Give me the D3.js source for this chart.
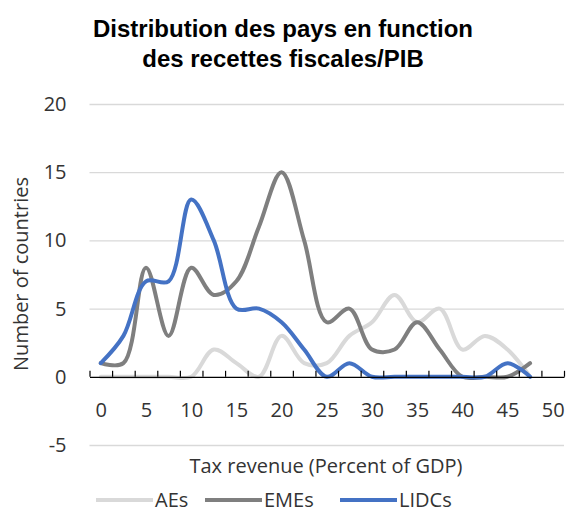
<!DOCTYPE html>
<html lang="fr">

<head>
    <meta charset="UTF-8" />
    <title>Distribution des pays</title>
    <style>
        body {
            margin: 0;
            background: #fff;
        }

        #container svg {
            display: block;
        }
    </style>
</head>

<body>
    <div id="container"></div>
</body>
<script src="https://cdnjs.cloudflare.com/ajax/libs/d3/7.8.5/d3.min.js"></script>
<script>
    // données
    const taxRevenue = [0, 2.5, 5, 7.5, 10, 12.5, 15, 17.5, 20, 22.5, 25, 27.5, 30, 32.5, 35, 37.5, 40, 42.5, 45, 47.5]
    const aes = [0, 0, 0, 0, 0, 2, 1, 0, 3, 1, 1, 3, 4, 6, 4, 5, 2, 3, 2, 0]
    const emes = [1, 1, 8, 3, 8, 6, 7, 11, 15, 10, 4, 5, 2, 2, 4, 2, 0, 0, 0, 1]
    const lidcs = [1, 3, 7, 7, 13, 10, 5, 5, 4, 2, 0, 1, 0, 0, 0, 0, 0, 0, 1, 0]
    const xTicks = [0, 5, 10, 15, 20, 25, 30, 35, 40, 45, 50]
    const yTicks = [-5, 0, 5, 10, 15, 20]
    const seriesNames = ['AEs', 'EMEs', 'LIDCs']
    const seriesColors = ['#d9d9d9', '#7f7f7f', '#4472c4']

    const width = 570, height = 512
    const plotL = 89.5, plotR = 564, plotT = 104, plotB = 445
    const font = "'Open Sans', sans-serif"

    const svg = d3.select('#container').append('svg').attr('width', width).attr('height', height)

    // titre
    const title = svg.append('text')
        .attr('text-anchor', 'middle')
        .style('font-family', "'Liberation Sans', Arial, sans-serif")
        .style('font-weight', 'bold')
        .style('font-size', '24px')
        .attr('fill', '#000')
    title.append('tspan').attr('x', 283).attr('y', 37).text('Distribution des pays en function')
    title.append('tspan').attr('x', 283).attr('y', 67).text('des recettes fiscales/PIB')

    // échelles : axe de catégories, une case de 2,5 par point
    const x = d3.scaleLinear().domain([-1.25, 51.25]).range([plotL, plotR])
    const y = d3.scaleLinear().domain([-5, 20]).range([plotB, plotT])

    // grille + étiquettes y (tiret simple pour -5)
    const yAxis = svg.append('g').attr('transform', `translate(${plotL},0)`)
        .call(d3.axisLeft(y).tickValues(yTicks).tickSize(-(plotR - plotL)).tickPadding(23).tickFormat(d => String(d)))
    yAxis.select('.domain').remove()
    yAxis.selectAll('line').attr('stroke', '#d9d9d9').attr('stroke-width', 1.3)
        .filter(d => d === 0).remove()
    yAxis.selectAll('text').style('font-family', font).style('font-size', '20px').attr('fill', '#333')

    // étiquettes x
    const xLabels = svg.append('g').attr('transform', `translate(0,${y(0)})`)
        .call(d3.axisBottom(x).tickValues(xTicks).tickSize(0).tickPadding(26))
    xLabels.select('.domain').remove()
    xLabels.selectAll('text').style('font-family', font).style('font-size', '20px').attr('fill', '#333')

    // séries
    const series = [aes, emes, lidcs]
    const line = d3.line()
        .x((d, i) => x(taxRevenue[i]))
        .y(d => y(d))
        .curve(d3.curveCatmullRom.alpha(0.5))

    series.forEach((s, k) => {
        svg.append('path')
            .datum(s)
            .attr('d', line)
            .attr('fill', 'none')
            .attr('stroke', seriesColors[k])
            .attr('stroke-width', 4)
            .attr('stroke-linejoin', 'round')
            .attr('stroke-linecap', 'round')
    })

    // axe horizontal à 0 avec graduations vers le haut
    const boundaries = d3.range(22).map(k => -1.25 + 2.5 * k)
    const xAxis = svg.append('g').attr('transform', `translate(0,${y(0)})`)
        .call(d3.axisBottom(x).tickValues(boundaries).tickSize(-6).tickSizeOuter(0).tickFormat(''))
    xAxis.select('.domain').attr('stroke', '#000').attr('stroke-width', 1.2)
    xAxis.selectAll('line').attr('stroke', '#000').attr('stroke-width', 1.2)

    // titres des axes
    svg.append('text')
        .attr('transform', 'translate(28,274) rotate(-90)')
        .attr('text-anchor', 'middle')
        .style('font-family', font).style('font-size', '20px').attr('fill', '#333')
        .text('Number of countries')

    svg.append('text')
        .attr('x', 326).attr('y', 473)
        .attr('text-anchor', 'middle')
        .style('font-family', font).style('font-size', '20px').attr('fill', '#333')
        .text('Tax revenue (Percent of GDP)')

    // légende
    const legendX = [96, 205, 340]
    const legend = svg.selectAll('g.legend').data(seriesNames).enter().append('g')
        .attr('class', 'legend')
        .attr('transform', (d, i) => `translate(${legendX[i]},500)`)
    legend.append('line')
        .attr('x1', 0).attr('x2', 57)
        .attr('stroke', (d, i) => seriesColors[i])
        .attr('stroke-width', 4)
    legend.append('text')
        .attr('x', 59).attr('y', 7)
        .style('font-family', font).style('font-size', '20px').attr('fill', '#333')
        .text(d => d)
</script>

</html>
